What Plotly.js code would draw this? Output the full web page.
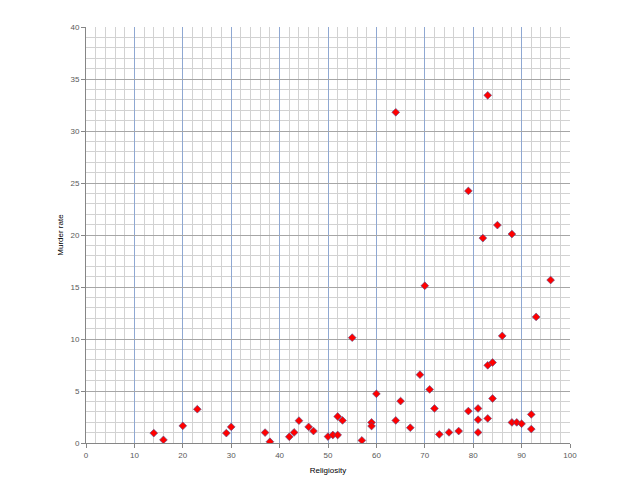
<!DOCTYPE html>
<html>
<head>
<meta charset="utf-8">
<script src="https://cdn.plot.ly/plotly-3.0.1.min.js"></script>
<style>html,body{margin:0;padding:0;background:#fff;}#chart{width:640px;height:480px;}</style>
</head>
<body>
<div id="chart"></div>
<script>
const religiosity = [14, 16, 20, 23, 29, 30, 37, 38, 42, 43, 44, 46, 47, 50, 51, 52, 52, 53, 55, 57, 59, 59, 60, 64, 64, 65, 67, 69, 70, 71, 72, 73, 75, 77, 79, 79, 81, 81, 81, 82, 83, 83, 83, 84, 84, 85, 86, 88, 88, 89, 90, 92, 92, 93, 96];
const murderRate  = [0.95, 0.3, 1.65, 3.25, 0.95, 1.55, 1.0, 0.12, 0.6, 1.02, 2.15, 1.55, 1.15, 0.62, 0.77, 0.77, 2.55, 2.17, 10.13, 0.25, 1.98, 1.63, 4.73, 2.17, 31.8, 4.03, 1.47, 6.57, 15.12, 5.15, 3.32, 0.83, 1.02, 1.15, 3.07, 24.24, 3.32, 2.24, 1.02, 19.7, 2.36, 7.47, 33.43, 7.74, 4.28, 20.95, 10.3, 1.98, 20.09, 1.98, 1.85, 2.75, 1.34, 12.12, 15.67];

const trace = {
  type: 'scatter',
  mode: 'markers',
  x: religiosity,
  y: murderRate,
  marker: {symbol: 'diamond', size: 6, color: '#ff0000', line: {color: 'rgba(80,80,140,0.6)', width: 1}},
  hoverinfo: 'x+y'
};

const tickFont = {family: 'Liberation Sans, Arial, sans-serif', size: 8, color: '#595959'};
const layout = {
  width: 640, height: 480,
  margin: {l: 86, r: 70, t: 27, b: 37},
  paper_bgcolor: '#ffffff', plot_bgcolor: '#ffffff',
  showlegend: false,
  xaxis: {
    range: [0, 100], dtick: 10, tick0: 0,
    showgrid: true, gridcolor: '#8fa8d2', gridwidth: 1,
    minor: {dtick: 2, showgrid: true, gridcolor: '#d2d2d2', gridwidth: 1},
    showline: true, linecolor: '#868686', linewidth: 1,
    ticks: 'outside', ticklen: 4, tickcolor: '#868686',
    zeroline: false, tickfont: tickFont,
    title: {text: 'Religiosity', font: {family: 'Liberation Sans, Arial, sans-serif', size: 8, color: '#000'}, standoff: 8}
  },
  yaxis: {
    range: [0, 40], dtick: 5, tick0: 0,
    showgrid: true, gridcolor: '#a6a6a6', gridwidth: 1,
    minor: {dtick: 1, showgrid: true, gridcolor: '#d2d2d2', gridwidth: 1},
    showline: true, linecolor: '#868686', linewidth: 1,
    ticks: 'outside', ticklen: 4, tickcolor: '#868686',
    zeroline: false, tickfont: tickFont,
    title: {text: 'Murder rate', font: {family: 'Liberation Sans, Arial, sans-serif', size: 8, color: '#000'}, standoff: 5}
  }
};

Plotly.newPlot('chart', [trace], layout, {displayModeBar: false, staticPlot: true});
</script>
</body>
</html>
